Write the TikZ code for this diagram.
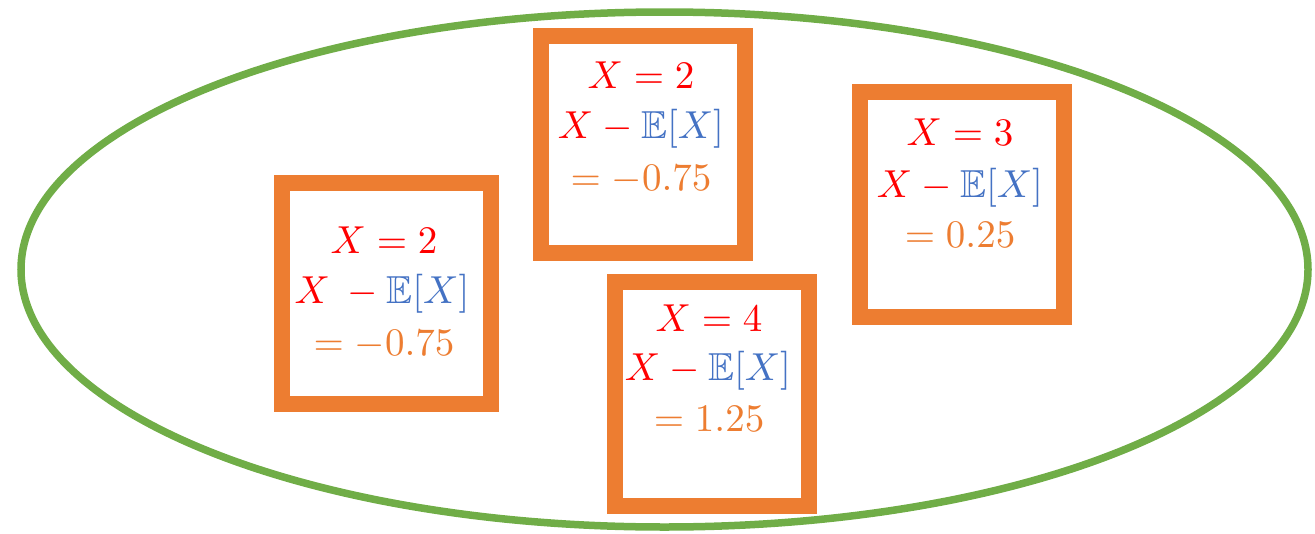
\documentclass[tikz,border=0pt]{standalone}
\usepackage{amssymb}
\usetikzlibrary{shapes.geometric}
\definecolor{cred}{HTML}{FF0000}
\definecolor{cblue}{HTML}{4472C4}
\definecolor{corange}{HTML}{ED7D31}
\definecolor{cgreen}{HTML}{70AD47}
\newcommand{\EX}{\textcolor{cblue}{\mathbb{E}[X]}}
\begin{document}
\begin{tikzpicture}[x=1pt,y=-1pt,
  orangebox/.style={draw=corange, line width=16pt, rectangle, inner sep=0pt, fill=white},
  oval/.style={draw=cgreen, line width=7.5pt, ellipse, inner sep=0pt},
  txt/.style={anchor=base, inner sep=0pt, scale=3.9}]
\useasboundingbox (0,0) rectangle (1315,533);
\node[oval, minimum width=1287pt, minimum height=515pt] (set) at (664.5,269.5) {};
% box 1
\node[orangebox, minimum width=209pt, minimum height=221pt] (box1) at (386.5,293.5) {};
\node[txt] (b1a) at (384,253) {$\color{cred}X=2$};
\node[txt] (b1b) at (382,303) {$\color{cred}X\mkern4mu-\EX$};
\node[txt] (b1c) at (384,355) {$\color{corange}=-0.75$};
% box 2
\node[orangebox, minimum width=204pt, minimum height=217pt] (box2) at (643,144.5) {};
\node[txt] (b2a) at (641,88) {$\color{cred}X=2$};
\node[txt] (b2b) at (641,138) {$\color{cred}X-\EX$};
\node[txt] (b2c) at (641,190) {$\color{corange}=-0.75$};
% box 3
\node[orangebox, minimum width=204pt, minimum height=225pt] (box3) at (962,204.5) {};
\node[txt] (b3a) at (960,145) {$\color{cred}X=3$};
\node[txt] (b3b) at (960,197) {$\color{cred}X-\EX$};
\node[txt] (b3c) at (960,247) {$\color{corange}=0.25$};
% box 4
\node[orangebox, minimum width=194pt, minimum height=224pt] (box4) at (712,394) {};
\node[txt] (b4a) at (709,331) {$\color{cred}X=4$};
\node[txt] (b4b) at (708,380) {$\color{cred}X-\EX$};
\node[txt] (b4c) at (709,431) {$\color{corange}=1.25$};
\end{tikzpicture}
\end{document}
